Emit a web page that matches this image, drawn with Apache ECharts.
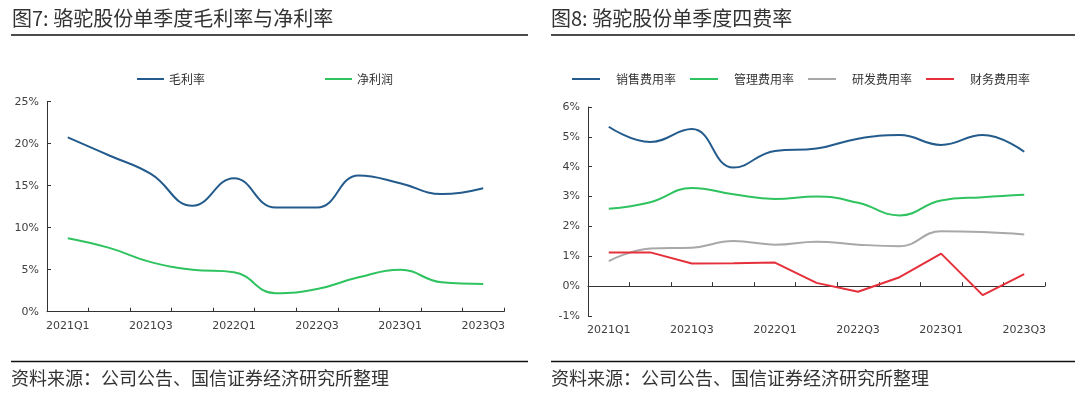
<!DOCTYPE html>
<html>
<head>
<meta charset="utf-8">
<script src="https://cdn.jsdelivr.net/npm/echarts@6/dist/echarts.min.js"></script>
<style>
html,body{margin:0;padding:0;background:#fff;}
#chart{width:1080px;height:400px;}
</style>
</head>
<body>
<div id="chart"></div>
<script>
// ---- data ----
const quarters = ['2021Q1','2021Q2','2021Q3','2021Q4','2022Q1','2022Q2','2022Q3','2022Q4','2023Q1','2023Q2','2023Q3'];
const grossMargin = [20.75, 18.6, 16.4, 12.6, 15.9, 12.4, 12.4, 16.2, 15.3, 14.0, 14.7];
const netMargin   = [8.75, 7.6, 5.9, 5.0, 4.7, 2.2, 2.7, 4.1, 5.0, 3.5, 3.3];
const salesRate   = [5.34, 4.83, 5.26, 3.97, 4.53, 4.61, 4.94, 5.06, 4.73, 5.06, 4.50];
const adminRate   = [2.59, 2.81, 3.29, 3.08, 2.92, 3.00, 2.79, 2.37, 2.87, 2.98, 3.06];
const rdRate      = [0.84, 1.26, 1.29, 1.51, 1.39, 1.49, 1.39, 1.34, 1.84, 1.81, 1.73];
const finRate     = [1.13, 1.13, 0.76, 0.77, 0.79, 0.11, -0.19, 0.30, 1.09, -0.30, 0.40];
const leftNames  = ['毛利率', '净利润'];
const rightNames = ['销售费用率', '管理费用率', '研发费用率', '财务费用率'];
const title1 = '图7: 骆驼股份单季度毛利率与净利率';
const title2 = '图8: 骆驼股份单季度四费率';
const source = '资料来源：公司公告、国信证券经济研究所整理';

// ---- styles ----
const C_BLUE = '#245b8d', C_GREEN = '#2fc35f', C_GRAY = '#a8a8a8', C_RED = '#e5303b';
const axisFont = {fontFamily: 'DejaVu Sans', fontSize: 11, color: '#404040'};
const cjk = '"Noto Sans CJK SC", sans-serif';

function xAxis(gi){
  return {
    type: 'category', gridIndex: gi, data: quarters, boundaryGap: true,
    axisLine: {lineStyle: {color: '#333', width: 1}},
    axisTick: {show: true, inside: true, length: 4, interval: 0, lineStyle: {color: '#333'}},
    axisLabel: Object.assign({interval: 1, margin: 9}, axisFont),
    splitLine: {show: false}
  };
}
function yAxis(gi, min, max, step){
  return {
    type: 'value', gridIndex: gi, min: min, max: max, interval: step,
    axisLine: {show: true, lineStyle: {color: '#333', width: 1}},
    axisTick: {show: true, inside: true, length: 4, lineStyle: {color: '#333'}},
    axisLabel: Object.assign({formatter: '{value}%', margin: 8}, axisFont),
    splitLine: {show: false}
  };
}
function line(name, data, color, xi, smooth){
  return {
    name: name, type: 'line', xAxisIndex: xi, yAxisIndex: xi, data: data,
    smooth: smooth ? 0.45 : false, symbol: 'none',
    lineStyle: {color: color, width: 2}, itemStyle: {color: color}
  };
}

const chart = echarts.init(document.getElementById('chart'));
chart.setOption({
  animation: false,
  backgroundColor: '#fff',
  grid: [
    {left: 47, right: 576, top: 101.7, bottom: 88.3},
    {left: 588, right: 35, top: 107, bottom: 84}
  ],
  xAxis: [xAxis(0), xAxis(1)],
  yAxis: [yAxis(0, 0, 25, 5), yAxis(1, -1, 6, 1)],
  legend: [
    {data: leftNames, left: 132, top: 68, itemWidth: 27, itemHeight: 14, itemGap: 120,
     icon: 'path://M0,6 L27,6 L27,8 L0,8 Z',
     textStyle: {fontFamily: cjk, fontSize: 12, color: '#333'}},
    {data: rightNames, left: 567, top: 68, itemWidth: 28, itemHeight: 14, itemGap: 14,
     icon: 'path://M0,6 L28,6 L28,8 L0,8 Z',
     textStyle: {fontFamily: cjk, fontSize: 12, color: '#333', padding: [0, 0, 0, 11]}}
  ],
  series: [
    line(leftNames[0], grossMargin, C_BLUE, 0, true),
    line(leftNames[1], netMargin, C_GREEN, 0, true),
    line(rightNames[0], salesRate, C_BLUE, 1, true),
    line(rightNames[1], adminRate, C_GREEN, 1, true),
    line(rightNames[2], rdRate, C_GRAY, 1, true),
    line(rightNames[3], finRate, C_RED, 1, false)
  ],
  graphic: [
    {type: 'text', left: 12, top: 8, style: {text: title1, font: '20px ' + cjk, fill: '#333'}},
    {type: 'text', left: 551, top: 8, style: {text: title2, font: '20px ' + cjk, fill: '#333'}},
    {type: 'line', shape: {x1: 11, y1: 35, x2: 528, y2: 35}, style: {stroke: '#111', lineWidth: 1.5}},
    {type: 'line', shape: {x1: 551, y1: 35, x2: 1075, y2: 35}, style: {stroke: '#111', lineWidth: 1.5}},
    {type: 'line', shape: {x1: 11, y1: 361.5, x2: 528, y2: 361.5}, style: {stroke: '#111', lineWidth: 1.5}},
    {type: 'line', shape: {x1: 551, y1: 361.5, x2: 1075, y2: 361.5}, style: {stroke: '#111', lineWidth: 1.5}},
    {type: 'text', left: 11, top: 369, style: {text: source, font: '18px ' + cjk, fill: '#333'}},
    {type: 'text', left: 551, top: 369, style: {text: source, font: '18px ' + cjk, fill: '#333'}}
  ]
});
</script>
</body>
</html>
